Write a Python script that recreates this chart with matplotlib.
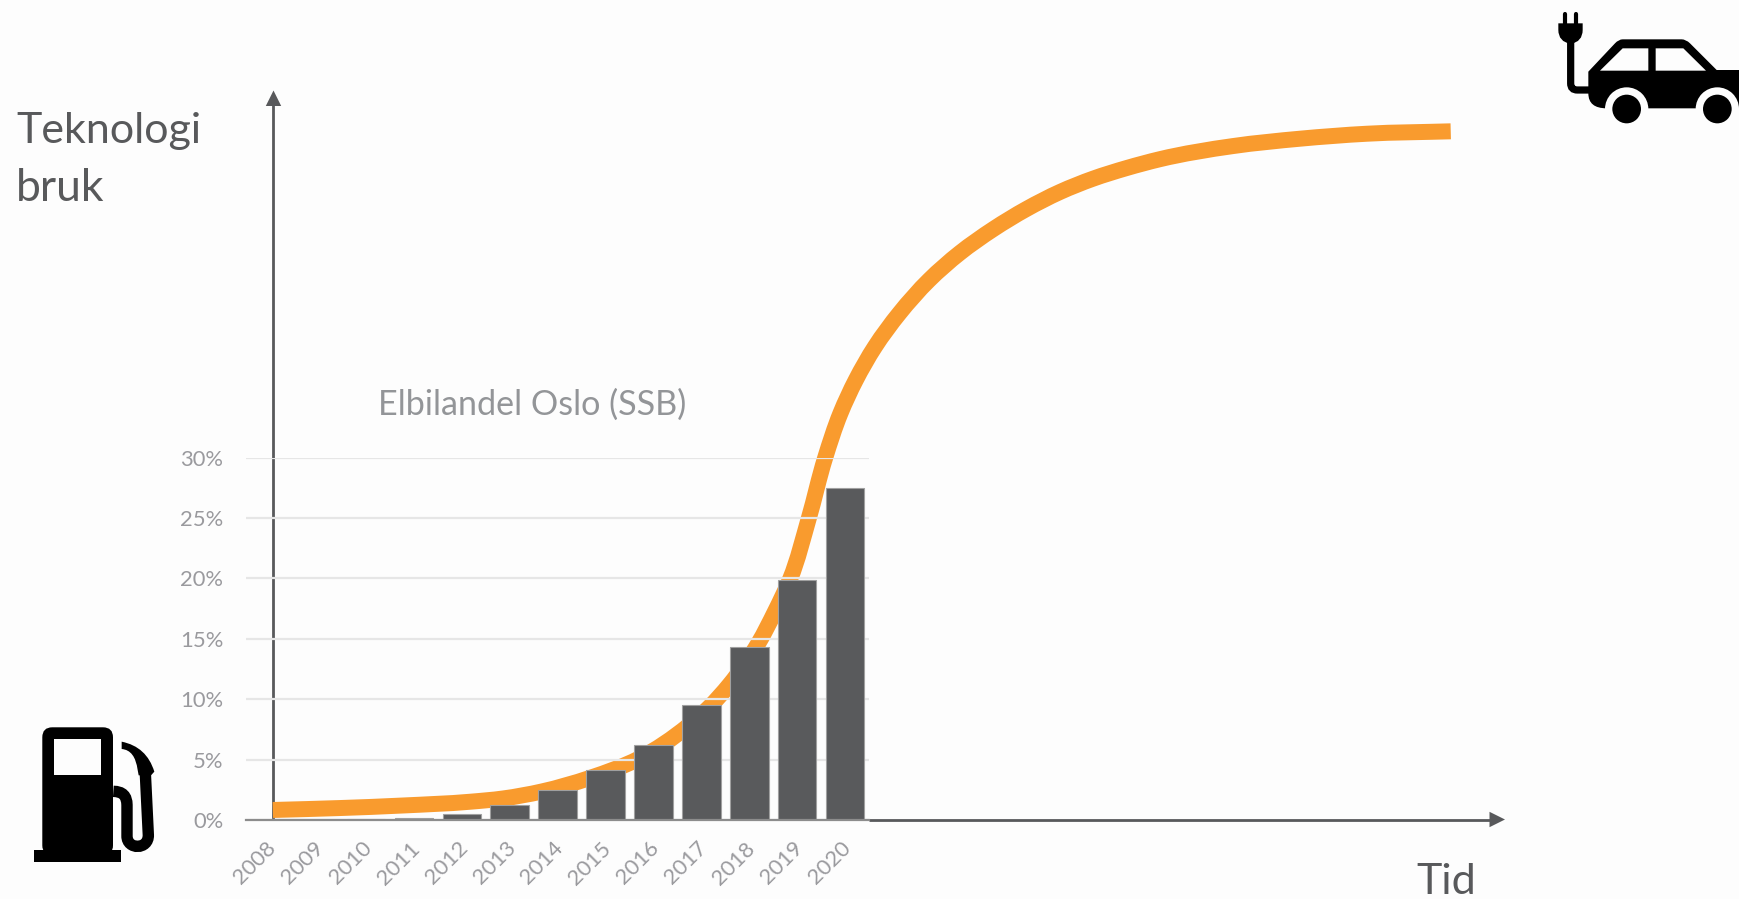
# Elbilandel Oslo + S-kurve for teknologibruk
import numpy as np
import matplotlib
matplotlib.use("Agg")
import matplotlib.pyplot as plt
from matplotlib.path import Path
from matplotlib.patches import PathPatch, Polygon, Circle, FancyBboxPatch, Rectangle
from matplotlib.transforms import ScaledTranslation

plt.rcParams['font.family'] = ['Lato', 'DejaVu Sans']

# =========================
# DATA
# =========================
years = [2008, 2009, 2010, 2011, 2012, 2013, 2014, 2015, 2016, 2017, 2018, 2019, 2020]
elbil_share = [0.02, 0.03, 0.05, 0.2, 0.5, 1.25, 2.5, 4.1, 6.2, 9.5, 14.3, 19.9, 27.5]
y_ticks = [0, 5, 10, 15, 20, 25, 30]
y_labels = ['0%', '5%', '10%', '15%', '20%', '25%', '30%']

# S-kurven lest av bildet, i samme enheter som stolpene (år, prosent)
curve_year = [2008.06, 2009.46, 2010.77, 2012.17, 2012.86, 2013.67, 2014.67, 2015.69,
              2016.72, 2017.16, 2017.58, 2018.19, 2018.53, 2018.85, 2019.24, 2019.58,
              2019.90, 2020.22, 2020.62, 2021.13, 2021.75, 2022.39, 2023.09, 2023.78,
              2024.48, 2025.17, 2025.87, 2026.56, 2028.09, 2029.49, 2030.88, 2032.63]
curve_pct = [0.83, 0.99, 1.20, 1.51, 1.78, 2.36, 3.48, 5.07,
             7.78, 9.33, 11.18, 14.65, 17.22, 19.95, 24.98, 29.97,
             33.67, 36.42, 39.18, 41.95, 44.70, 46.94, 48.92, 50.58,
             51.99, 53.09, 53.97, 54.70, 55.79, 56.40, 56.81, 57.01]

BG = '#fdfdfd'
W, H = 1740, 899
X_LEFT, X_STEP = 246.0, 47.94      # diagrammets venstre kant og kategoribredde i piksler
Y_ZERO, Y_PCT = 820, 12.08         # 0%-linjen og piksler per prosentpoeng

fig = plt.figure(figsize=(W / 100, H / 100), dpi=100, facecolor=BG)

# =========================
# BAKGRUNN: piksel-akse for piler, tekst og ikoner
# =========================
bg = fig.add_axes([0, 0, 1, 1], zorder=0)
bg.set_xlim(0, W)
bg.set_ylim(H, 0)
bg.axis('off')

DARK = '#58595b'
bg.plot([273.5, 273.5], [820, 105], color=DARK, lw=2.0, solid_capstyle='butt')
bg.add_patch(Polygon([[273.5, 90.5], [265.8, 106], [281.2, 106]], color=DARK, lw=0))
bg.plot([869, 1490], [819.5, 819.5], color=DARK, lw=2.0, solid_capstyle='butt')
bg.add_patch(Polygon([[1505, 819.5], [1489.5, 811.8], [1489.5, 827.2]], color=DARK, lw=0))

bg.text(16, 143, 'Teknologi', fontsize=31, color=DARK, va='baseline')
bg.text(16, 200.7, 'bruk', fontsize=32, color=DARK, va='baseline')
bg.text(1416, 894, 'Tid', fontsize=31, color=DARK, va='baseline')
bg.text(378, 415, 'Elbilandel Oslo (SSB)', fontsize=24.6, color='#939598', va='baseline')


# bensinpumpe, koordinater fra utsnittet (x/3, 650 + y/3)
def pump(x, y):
    return (x / 3, 650 + y / 3)


bg.add_patch(FancyBboxPatch((42.3, 727.3), 70.7, 128, boxstyle='round,pad=0,rounding_size=10',
                            fc='black', ec='black', lw=0, mutation_aspect=1))
bg.add_patch(Rectangle((34, 850), 87, 11.7, color='black', lw=0))
bg.add_patch(Rectangle((53.7, 739), 47.3, 35.7, color=BG, lw=0))
hose = Path([pump(340, 424), pump(381, 424), pump(381, 465), pump(381, 558),
             pump(381, 600), pump(446, 600), pump(445, 555), pump(436, 370)],
            [Path.MOVETO, Path.CURVE3, Path.CURVE3, Path.LINETO,
             Path.CURVE4, Path.CURVE4, Path.CURVE4, Path.LINETO])
bg.add_patch(PathPatch(hose, fc='none', ec='black', lw=8.2))
nozzle = Path([pump(365, 275), pump(440, 290), pump(463, 365), pump(453, 376), pump(416, 376),
               pump(413, 360), pump(405, 300), pump(365, 297), pump(365, 275)],
              [Path.MOVETO, Path.CURVE3, Path.CURVE3, Path.LINETO, Path.LINETO,
               Path.LINETO, Path.CURVE3, Path.CURVE3, Path.CLOSEPOLY])
bg.add_patch(PathPatch(nozzle, fc='black', ec='black', lw=0))


# elbil, koordinater fra utsnittet (1500 + x/3, y/3)
def car(x, y):
    return (1500 + x / 3, y / 3)


body = Path([car(265, 215), car(345, 130), car(356, 118), car(368, 118), car(545, 118), car(558, 118),
             car(570, 130), car(650, 210), car(730, 210), car(730, 325), car(320, 325),
             car(265, 325), car(265, 280), car(265, 215)],
            [Path.MOVETO, Path.LINETO, Path.CURVE3, Path.CURVE3, Path.LINETO, Path.CURVE3,
             Path.CURVE3, Path.LINETO, Path.LINETO, Path.LINETO, Path.LINETO,
             Path.CURVE3, Path.CURVE3, Path.CLOSEPOLY])
bg.add_patch(PathPatch(body, fc='black', ec='black', lw=0))
for cx in (380, 652):
    bg.add_patch(Circle(car(cx, 327), 65 / 3, fc=BG, lw=0))
    bg.add_patch(Rectangle((car(cx - 65, 327)), 130 / 3, 15, fc=BG, lw=0))
    bg.add_patch(Circle(car(cx, 327), 43 / 3, fc='black', lw=0))
bg.add_patch(Polygon([car(300, 212), car(368, 145), car(445, 145), car(445, 212)], fc=BG, lw=0))
bg.add_patch(Polygon([car(467, 145), car(550, 145), car(618, 212), car(467, 212)], fc=BG, lw=0))
cord = Path([car(268, 270), car(232, 270), car(212, 270), car(212, 250), car(212, 125)],
            [Path.MOVETO, Path.LINETO, Path.CURVE3, Path.CURVE3, Path.LINETO])
bg.add_patch(PathPatch(cord, fc='none', ec='black', lw=5.2))
plug = Path([car(175, 70), car(248, 70), car(248, 90), car(248, 125), car(212, 132),
             car(175, 125), car(175, 90), car(175, 70)],
            [Path.MOVETO, Path.LINETO, Path.LINETO, Path.CURVE3, Path.CURVE3,
             Path.CURVE3, Path.CURVE3, Path.CLOSEPOLY])
bg.add_patch(PathPatch(plug, fc='black', ec='black', lw=0))
for px in (194, 228):
    bg.plot(*zip(car(px, 42), car(px, 72)), color='black', lw=3.0, solid_capstyle='round')


# =========================
# DIAGRAM
# =========================
def smooth_path(xs, ys, sx, sy):
    # bezier gjennom de avleste punktene, tangenter regnet i skjermskala
    pts = np.column_stack([np.array(xs) * sx, np.array(ys) * sy])
    d = np.diff(pts, axis=0)
    lens = np.linalg.norm(d, axis=1, keepdims=True)
    unit = d / lens
    tang = np.vstack([unit[0], unit[:-1] * lens[1:] + unit[1:] * lens[:-1], unit[-1]])
    tang /= np.linalg.norm(tang, axis=1, keepdims=True)
    verts = [pts[0]]
    codes = [Path.MOVETO]
    for i in range(len(pts) - 1):
        chord = lens[i] / 3
        verts += [pts[i] + tang[i] * chord, pts[i + 1] - tang[i + 1] * chord, pts[i + 1]]
        codes += [Path.CURVE4] * 3
    verts = np.array(verts) / [sx, sy]
    return Path(verts, codes)


ax = fig.add_axes([X_LEFT / W, 1 - Y_ZERO / H, 13 * X_STEP / W, 30 * Y_PCT / H],
                  zorder=1, facecolor='none')
ax.add_patch(PathPatch(smooth_path(curve_year, curve_pct, X_STEP, Y_PCT), fc='none', ec='#f99b2e',
                       lw=11.5, capstyle='butt', joinstyle='round', clip_on=False, zorder=1))
ax.bar(years, elbil_share, width=0.8, color='#595a5c', edgecolor='#a0a0a0', linewidth=0.8, zorder=2)

ax.set_xlim(2007.5, 2020.5)
ax.set_ylim(0, 30)
ax.set_yticks(y_ticks)
ax.set_yticklabels(y_labels)
ax.set_xticks(years)
ax.set_xticklabels(years, rotation=45, ha='right', va='top', rotation_mode='anchor')
ax.tick_params(axis='both', length=0, labelsize=15.8, labelcolor='#9a9a9e')
ax.tick_params(axis='y', pad=16.3)
ax.tick_params(axis='x', pad=13)
ax.grid(axis='y', color='#e6e6e6', lw=1.6)
ax.set_axisbelow('line')
ax.grid(axis='x', visible=False)
for side in ('top', 'right', 'left'):
    ax.spines[side].set_visible(False)
ax.spines['bottom'].set_color('#8c8c8c')
ax.spines['bottom'].set_linewidth(1.6)

# årstallene litt mot venstre
shift = ScaledTranslation(-4.4 / 100, 0, fig.dpi_scale_trans)
for label in ax.get_xticklabels():
    label.set_transform(label.get_transform() + shift)

fig.savefig('out.png', dpi=100, facecolor=BG)
